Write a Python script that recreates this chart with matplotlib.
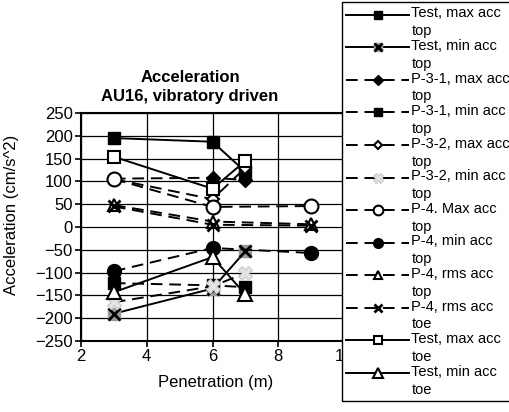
import matplotlib
matplotlib.use("Agg")
import matplotlib.pyplot as plt
import matplotlib.transforms as mtransforms
from matplotlib.legend_handler import HandlerTuple, HandlerLine2D
from matplotlib.lines import Line2D

plt.rcParams['font.family'] = ['Liberation Sans', 'DejaVu Sans']

# data
x_top = [3, 6, 7]
x_p4 = [3, 6, 9]

test_max_top = [195, 187, 121]
test_min_top = [-190, -135, -53]
p31_max_top = [106, 108, 103]
p31_min_top = [-123, -128, -132]
p32_max_top = [105, 61, 130]
p32_min_top = [-165, -130, -101]
p4_max_top = [105, 44, 46]
p4_min_top = [-97, -46, -57]
p4_rms_top = [48, 12, 6]
p4_rms_toe = [45, 5, 3]
test_max_toe = [154, 84, 145]
test_min_toe = [-143, -66, -148]

labels = ['Test, max acc\ntop', 'Test, min acc\ntop', 'P-3-1, max acc\ntop',
          'P-3-1, min acc\ntop', 'P-3-2, max acc\ntop', 'P-3-2, min acc\ntop',
          'P-4. Max acc\ntop', 'P-4, min acc\ntop', 'P-4, rms acc\ntop',
          'P-4, rms acc\ntoe', 'Test, max acc\ntoe', 'Test, min acc\ntoe']


class UpHandler(HandlerLine2D):
    # put the legend symbol next to the first line of the label
    def create_artists(self, legend, orig_handle, xdescent, ydescent,
                       width, height, fontsize, trans):
        arts = super().create_artists(legend, orig_handle, xdescent, ydescent,
                                      width, height, fontsize, trans)
        up = mtransforms.Affine2D().translate(0, 0.55 * fontsize)
        for a in arts:
            a.set_transform(up + trans)
        return arts


fig = plt.figure(figsize=(5.09, 4.12), dpi=100)
ax = fig.add_axes([81/509, 1-341/412, 263/509, 228/412])

lw = 1.4
dash = (0, (6, 3.5))
k = 'black'

h = []
h.append(ax.plot(x_top, test_max_top, color=k, lw=lw, marker='s', ms=8,
                 mfc=k, mec=k)[0])
l1, = ax.plot(x_top, test_min_top, color=k, lw=lw, marker='s', ms=9,
              mfc='#9a9a9a', mec='#9a9a9a')
l2, = ax.plot(x_top, test_min_top, color=k, lw=0, marker='x', ms=9,
              mew=2, mec=k)
h.append((l1, l2))
h.append(ax.plot(x_top, p31_max_top, color=k, lw=lw, ls=dash, marker='D',
                 ms=7, mfc=k, mec=k)[0])
h.append(ax.plot(x_top, p31_min_top, color=k, lw=lw, ls=dash, marker='s',
                 ms=8, mfc=k, mec=k)[0])
h.append(ax.plot(x_top, p32_max_top, color=k, lw=lw, ls=dash, marker='D',
                 ms=6, mfc='white', mec=k, mew=1.5)[0])
h.append(ax.plot(x_top, p32_min_top, color=k, lw=lw, ls=dash, marker='X',
                 ms=10, mfc='#e4e4e4', mec='#cfcfcf')[0])
h.append(ax.plot(x_p4, p4_max_top, color=k, lw=lw, ls=dash, marker='o',
                 ms=10, mfc='white', mec=k, mew=1.5)[0])
h.append(ax.plot(x_p4, p4_min_top, color=k, lw=lw, ls=dash, marker='o',
                 ms=10, mfc=k, mec=k)[0])
h.append(ax.plot(x_p4, p4_rms_top, color=k, lw=lw, ls=dash, marker='^',
                 ms=8, mfc='white', mec=k, mew=1.5)[0])
h.append(ax.plot(x_p4, p4_rms_toe, color=k, lw=lw, ls=dash, marker='x',
                 ms=9, mew=2, mec=k)[0])
h.append(ax.plot(x_top, test_max_toe, color=k, lw=lw, marker='s', ms=9,
                 mfc='white', mec=k, mew=1.5)[0])
h.append(ax.plot(x_top, test_min_toe, color=k, lw=lw, marker='^', ms=10,
                 mfc='white', mec=k, mew=1.5)[0])

ax.set_xlim(2, 10)
ax.set_ylim(-250, 250)
ax.set_xticks([2, 4, 6, 8, 10])
ax.set_yticks(range(-250, 251, 50))
ax.grid(True, color=k, lw=0.9)
ax.set_axisbelow(True)
ax.tick_params(direction='out', length=4, width=1.2, labelsize=12, pad=2)
for s in ax.spines.values():
    s.set_linewidth(1.5)

fig.text(190/509, 1-78/412, 'Acceleration', ha='center', va='center',
         fontsize=12, fontweight='bold')
fig.text(190/509, 1-97/412, 'AU16, vibratory driven', ha='center',
         va='center', fontsize=12, fontweight='bold')
fig.text(12/509, 1-215/412, 'Acceleration (cm/s^2)', rotation=90,
         ha='center', va='center', fontsize=12)
fig.text(216/509, 1-382/412, 'Penetration (m)', ha='center', va='center',
         fontsize=12)

leg = fig.legend(h, labels, loc='upper left',
                 bbox_to_anchor=(342/509, 1-2/412), fontsize=10.5,
                 handlelength=4.3, handletextpad=0.15, labelspacing=0.05,
                 borderpad=0.3, borderaxespad=0, markerscale=0.7,
                 fancybox=False, edgecolor=k, framealpha=1,
                 handler_map={tuple: HandlerTuple(ndivide=1),
                              Line2D: UpHandler()})
leg.get_frame().set_linewidth(1.0)
for t in leg.get_texts():
    t.set_linespacing(1.35)

fig.savefig('out.png', dpi=100)
